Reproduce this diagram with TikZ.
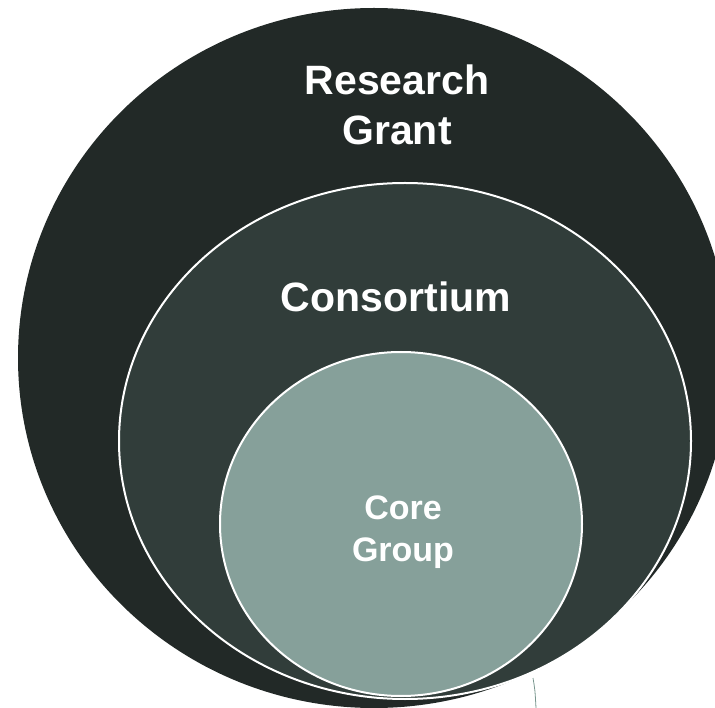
\documentclass[tikz,border=0pt]{standalone}
\usepackage{fontspec}
\setmainfont{Liberation Sans}
\usepackage{xcolor}
\usepackage{tikz}

\definecolor{grantfill}{RGB}{34,41,39}
\definecolor{consfill}{RGB}{49,61,58}
\definecolor{corefill}{RGB}{134,160,154}
\definecolor{strayline}{RGB}{120,150,142}

\tikzset{
  ringedge/.style={draw=white, line width=2pt},
  ringlabel/.style={text=white, align=center, inner sep=0pt}
}

\begin{document}
\begin{tikzpicture}[x=1pt, y=-1pt]
            \useasboundingbox (0,0) rectangle (715,708);
            \clip (0,0) rectangle (715,708);

            \fill[grantfill] (374,358) ellipse (356 and 350); % outer ring
            \draw[ringedge, fill=consfill] (405,441) ellipse (286 and 258); % middle ring
            \draw[ringedge, fill=corefill] (401,524) ellipse (181 and 172); % inner ring

            \draw[strayline, line width=0.8pt] (533,678) .. controls (535,690) .. (536,708);

            \node[ringlabel, font=\fontsize{41}{50}\selectfont\bfseries] (grant) at (397,105) {Research\\Grant};
            \node[ringlabel, font=\fontsize{41}{50}\selectfont\bfseries] (consortium) at (396,297) {Consortium};
            \node[ringlabel, font=\fontsize{34}{42}\selectfont\bfseries] (core) at (403,532) {Core\\Group};
        \end{tikzpicture}
\end{document}
